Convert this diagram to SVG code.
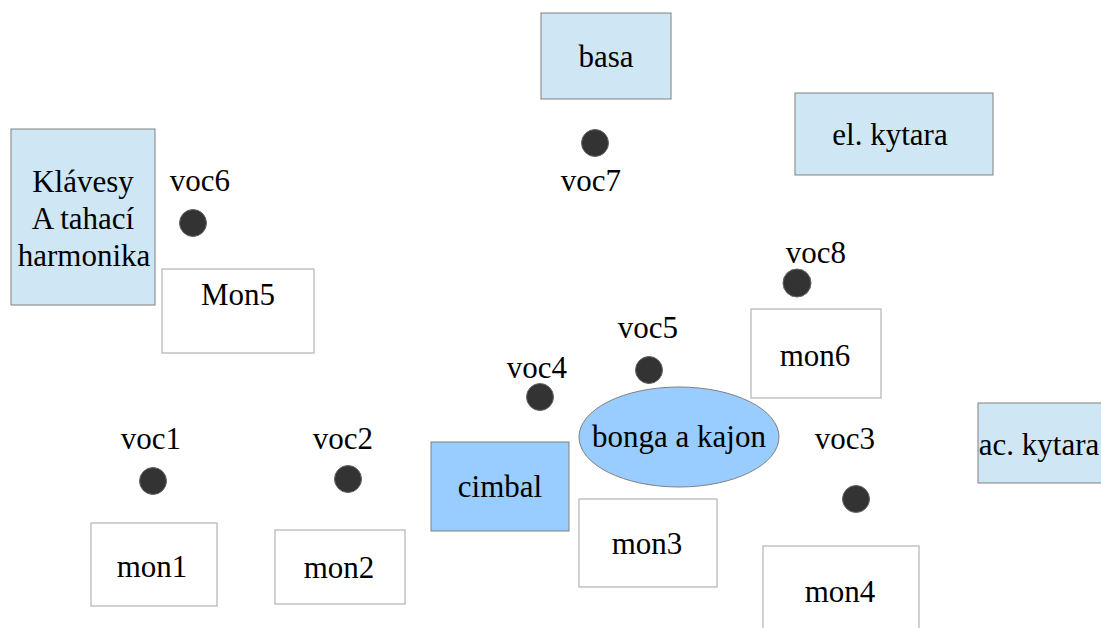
<svg xmlns="http://www.w3.org/2000/svg" width="1101" height="628" viewBox="0 0 1101 628">
<style>
text{font-family:'Liberation Serif','Times New Roman',serif;font-size:31px;text-anchor:middle;fill:#000}
.inst{fill:#cfe7f5;stroke:#808080;stroke-width:1}
.perc{fill:#99ccff;stroke:#808080;stroke-width:1}
.mon{fill:#fff;stroke:#b3b3b3;stroke-width:1.2}
.mic{fill:#333;stroke:#666;stroke-width:1}
</style>
<rect width="1101" height="628" fill="#fff"/>
<g id="klavesy"><rect class="inst" x="11" y="129" width="144" height="176"/><text x="83" y="192">Klávesy</text><text x="83" y="229">A tahací</text><text x="84" y="266">harmonika</text></g>
<g id="basa"><rect class="inst" x="541" y="13" width="130" height="86"/><text x="606" y="67">basa</text></g>
<g id="el-kytara"><rect class="inst" x="795" y="93" width="198" height="82"/><text x="890" y="145">el. kytara</text></g>
<g id="ac-kytara"><rect class="inst" x="978" y="403" width="126" height="80"/><text x="1039" y="455">ac. kytara</text></g>
<g id="cimbal"><rect class="perc" x="431" y="442" width="138" height="89"/><text x="500" y="497">cimbal</text></g>
<g id="bonga"><ellipse class="perc" cx="679" cy="437" rx="100" ry="50"/><text x="679" y="447">bonga a kajon</text></g>
<g id="mon1"><rect class="mon" x="91" y="523" width="126" height="83"/><text x="152" y="577">mon1</text></g>
<g id="mon2"><rect class="mon" x="275" y="530" width="130" height="74"/><text x="339" y="578">mon2</text></g>
<g id="mon3"><rect class="mon" x="579" y="499" width="138" height="88"/><text x="647" y="554">mon3</text></g>
<g id="mon4"><rect class="mon" x="763" y="546" width="156" height="90"/><text x="840" y="602">mon4</text></g>
<g id="mon5"><rect class="mon" x="162" y="269" width="152" height="84"/><text x="238" y="305">Mon5</text></g>
<g id="mon6"><rect class="mon" x="751" y="309" width="130" height="89"/><text x="815" y="366">mon6</text></g>
<g id="voc1"><circle class="mic" cx="153" cy="481" r="13.5"/><text x="151" y="449">voc1</text></g>
<g id="voc2"><circle class="mic" cx="348" cy="479" r="13.5"/><text x="343" y="449">voc2</text></g>
<g id="voc3"><circle class="mic" cx="856" cy="499" r="13.5"/><text x="845" y="449">voc3</text></g>
<g id="voc4"><circle class="mic" cx="540" cy="397" r="13.5"/><text x="537" y="378">voc4</text></g>
<g id="voc5"><circle class="mic" cx="649" cy="370" r="13.5"/><text x="648" y="338">voc5</text></g>
<g id="voc6"><circle class="mic" cx="193" cy="223" r="13.5"/><text x="200" y="191">voc6</text></g>
<g id="voc7"><circle class="mic" cx="595" cy="143" r="13.5"/><text x="591" y="191">voc7</text></g>
<g id="voc8"><circle class="mic" cx="797" cy="283" r="14"/><text x="816" y="263">voc8</text></g>
<g id="connectors"></g>
</svg>
